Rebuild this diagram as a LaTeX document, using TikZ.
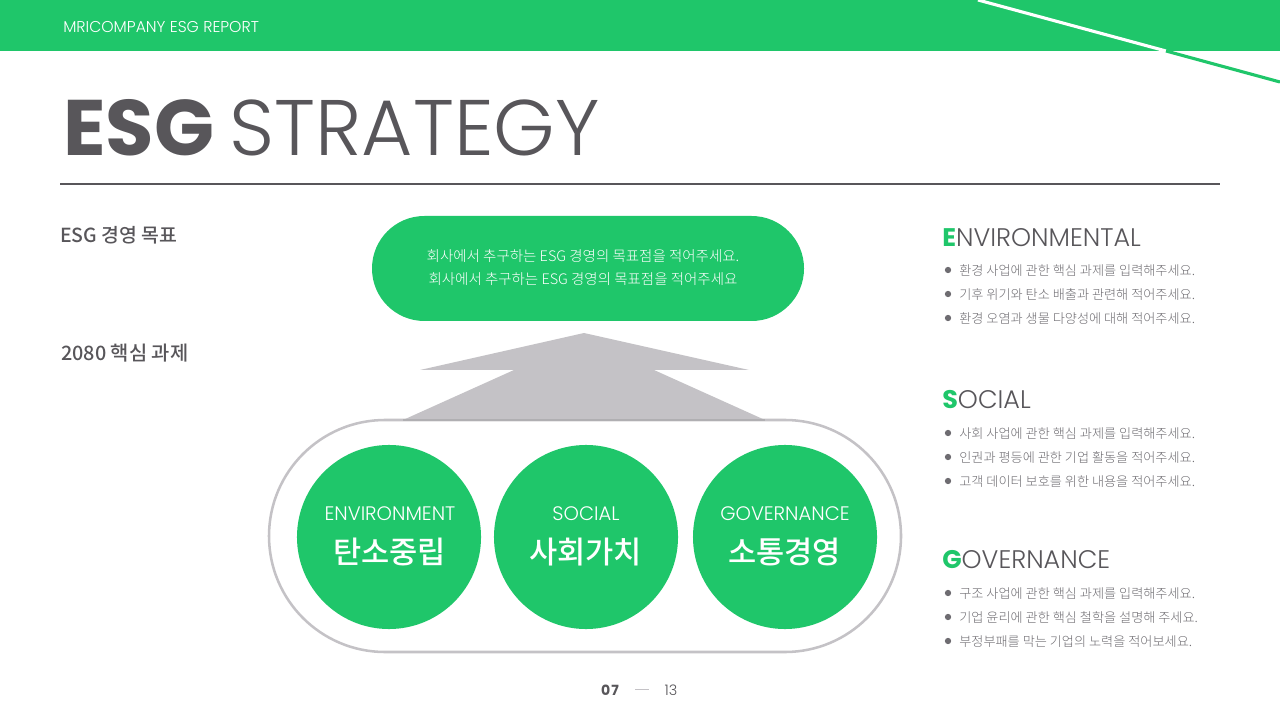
\documentclass[tikz,border=0pt]{standalone}
\usepackage{fontspec}
\usepackage{tikz}
\setmainfont{Poppins}
\newfontfamily\krfont{Noto Sans CJK KR Medium}
\newfontfamily\krlight{Noto Sans CJK KR Light}
\newfontfamily\poplight{Poppins Light}
\definecolor{esggreen}{HTML}{1FC66A}
\definecolor{esgdark}{HTML}{58565A}
\definecolor{esggray}{HTML}{C4C2C6}
\definecolor{esgtext}{HTML}{6E6C71}
\tikzset{
  heading/.style={anchor=west,text=esgdark,inner sep=0pt,font=\fontsize{18.1}{22}\selectfont\poplight},
  bullet/.style={anchor=west,text=esgtext,inner sep=0pt,font=\fontsize{9.36}{12}\selectfont\krlight},
  dot/.style={circle,fill=esgtext,inner sep=0pt,minimum size=4.5pt},
  disc/.style={circle,fill=esggreen,inner sep=0pt,minimum size=4.6cm},
  disctop/.style={text=white,font=\fontsize{13.9}{16}\selectfont\poplight},
  discmain/.style={text=white,font=\fontsize{21.8}{26}\selectfont\krfont},
  goal/.style={anchor=west,text=esgdark,inner sep=0pt,font=\fontsize{13.8}{16}\selectfont\krfont}
}
\begin{document}
\begin{tikzpicture}[x=0.025cm,y=-0.025cm]
\useasboundingbox (0,0) rectangle (1280,720);
\fill[white] (0,0) rectangle (1280,720);
% top band
\fill[esggreen] (0,0) rectangle (1280,51);
\draw[white,line width=2.2pt] (978,0) -- (1166,51);
\draw[esggreen,line width=2.2pt] (1166,51) -- (1280,82);
\node[anchor=west,text=white,inner sep=0pt,font=\fontsize{11.15}{13}\selectfont\poplight] (report) at (63,27) {MRICOMPANY ESG REPORT};
% title
\node[anchor=west,text=esgdark,inner sep=0pt,font=\fontsize{56}{64}\selectfont] (title) at (63,128) {\textbf{ESG}\hspace{-4pt} {\poplight STRATEGY}};
\draw[esgdark,line width=1.4pt] (60,184) -- (1220,184);
% left labels
\node[goal] (goal) at (60,235.5) {ESG 경영 목표};
\node[goal,font=\fontsize{14.1}{16}\selectfont\krfont] (task) at (61,353.5) {2080 핵심 과제};
% arrow and capsule
\fill[esggray] (584,333) -- (749,370) -- (654,370) -- (765,420) -- (403,420) -- (514,370) -- (420,370) -- cycle;
\draw[esggray,line width=1.8pt,rounded corners=2.9cm] (269,420) rectangle (901,652);
\draw[esggray!90!black,line width=1.4pt] (403,420) -- (765,420);
% top pill
\fill[esggreen,rounded corners=1.31cm] (372,216) rectangle (804,321);
\node[text=white,inner sep=0pt,align=center,font=\fontsize{10.3}{16.3}\selectfont\krlight] (aim) at (583,267.5) {회사에서 추구하는 ESG 경영의 목표점을 적어주세요.\\회사에서 추구하는 ESG 경영의 목표점을 적어주세요};
% three circles
\node[disc] (env) at (389,537) {};
\node[disc] (soc) at (586,537) {};
\node[disc] (gov) at (785,537) {};
\node[disctop] (envtop) at (390,513.5) {ENVIRONMENT};
\node[disctop] (soctop) at (586,513.5) {SOCIAL};
\node[disctop] (govtop) at (785,513.5) {GOVERNANCE};
\node[discmain] (envmain) at (389.5,552) {탄소중립};
\node[discmain] (socmain) at (585.5,552) {사회가치};
\node[discmain] (govmain) at (784.5,552) {소통경영};
% right column
\node[heading] (ehead) at (942,237.5) {\textcolor{esggreen}{\textbf{\rmfamily E}}NVIRONMENTAL};
\node[heading] (shead) at (942,399.5) {\textcolor{esggreen}{\textbf{\rmfamily S}}OCIAL};
\node[heading] (ghead) at (942,559.5) {\textcolor{esggreen}{\textbf{\rmfamily G}}OVERNANCE};
\foreach \y/\t in {270/환경 사업에 관한 핵심 과제를 입력해주세요.,294/기후 위기와 탄소 배출과 관련해 적어주세요.,318/환경 오염과 생물 다양성에 대해 적어주세요.,433/사회 사업에 관한 핵심 과제를 입력해주세요.,457/인권과 평등에 관한 기업 활동을 적어주세요.,481/고객 데이터 보호를 위한 내용을 적어주세요.,593/구조 사업에 관한 핵심 과제를 입력해주세요.,617/기업 윤리에 관한 핵심 철학을 설명해 주세요.,641/부정부패를 막는 기업의 노력을 적어보세요.}{
  \node[dot] at (948,\y) {};
  \node[bullet] at (959,\y+0.5) {\t};
}
% page number
\node[text=esgdark,inner sep=0pt,font=\fontsize{10}{12}\selectfont\bfseries] (page) at (610,690) {0\kern0.6pt7};
\node[text=esgdark,inner sep=0pt,font=\fontsize{10.3}{12}\selectfont\poplight] (total) at (671,690) {13};
\draw[esggray,line width=0.7pt] (635,689.5) -- (649,689.5);
\end{tikzpicture}
\end{document}
